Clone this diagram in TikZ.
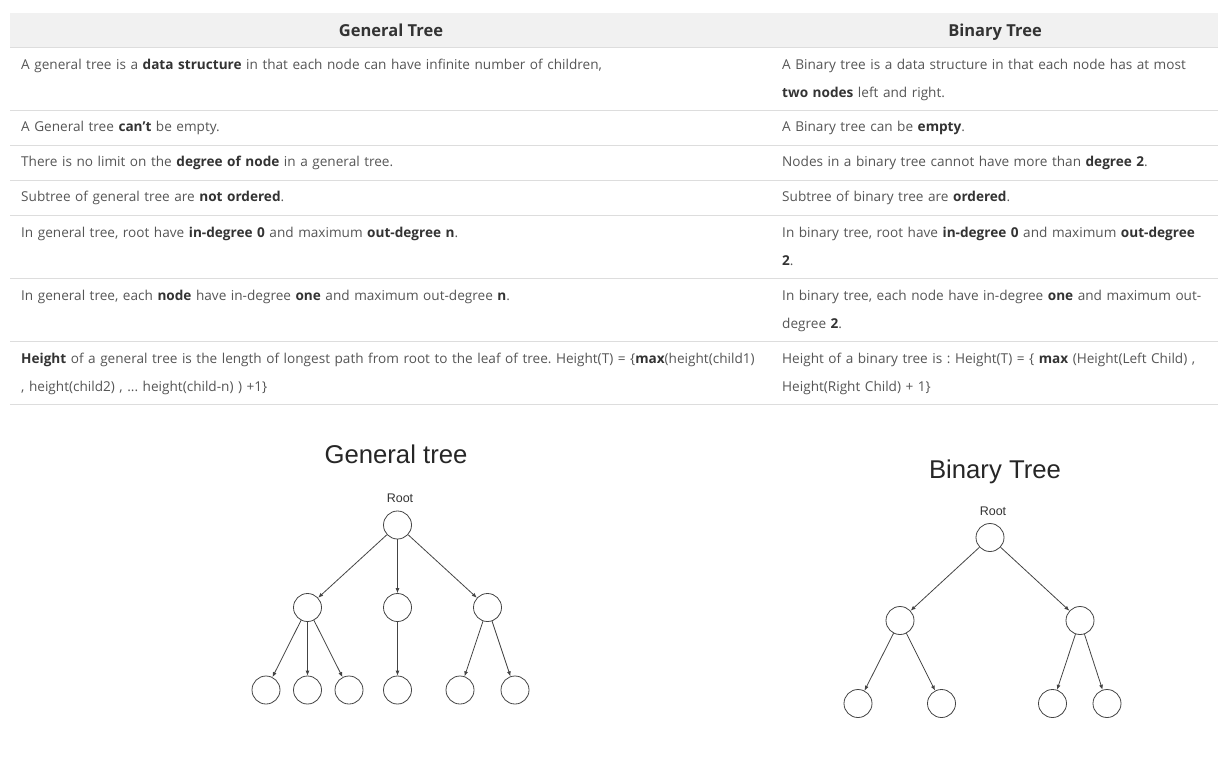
\documentclass[tikz,border=0pt]{standalone}
\usepackage{fontspec}
\setmainfont{Open Sans}
\newfontfamily\arialfont{Liberation Sans}
\usepackage{xcolor}
\usetikzlibrary{arrows.meta,positioning}

\definecolor{txtgray}{HTML}{555555}
\definecolor{boldgray}{HTML}{333333}
\definecolor{headfill}{HTML}{F1F1F1}
\definecolor{rulegray}{HTML}{DDDDDD}
\definecolor{treegray}{HTML}{444444}

\newcommand{\bb}[1]{{\bfseries\color{boldgray}#1}}

\tikzset{
  cell/.style={anchor=base west, inner sep=0pt, text width=760pt, align=left,
    text=txtgray, font=\fontsize{13.6}{28}\selectfont\frenchspacing},
  headcell/.style={anchor=base, inner sep=0pt, text=boldgray,
    font=\fontsize{16.5}{18}\selectfont\bfseries},
  tnode/.style={circle, draw=treegray, line width=0.8pt, minimum size=28pt, inner sep=0pt},
  tedge/.style={draw=treegray, line width=0.8pt, -{Latex[length=5pt,width=4pt]}},
  ttitle/.style={anchor=base, inner sep=0pt, text=black!85,
    font=\arialfont\fontsize{25.7}{28}\selectfont},
  troot/.style={anchor=base, inner sep=0pt, text=black!80,
    font=\arialfont\fontsize{12.5}{14}\selectfont}
}

\begin{document}
\begin{tikzpicture}[x=1pt, y=-1pt]
  \useasboundingbox (0,0) rectangle (1232,756);

  % Table header
  \fill[headfill] (10,13) rectangle (1218,47);
  \node[headcell] (hgen) at (391,36) {General Tree};
  \node[headcell] (hbin) at (995,36) {Binary Tree};

  % Row rules
  \foreach \ry in {47,110,145,180,215,278,341,404}
    \draw[rulegray, line width=1pt] (10,\ry) -- (1218,\ry);

  % General tree column
  \node[cell] (g1) at (21,69) {A general tree is a \bb{data structure} in that each node can have infinite number of children,};
  \node[cell] (g2) at (21,131) {A General tree \bb{can’t} be empty.};
  \node[cell] (g3) at (21,166) {There is no limit on the \bb{degree of node} in a general tree.};
  \node[cell] (g4) at (21,201) {Subtree of general tree are \bb{not ordered}.};
  \node[cell] (g5) at (21,237) {In general tree, root have \bb{in-degree 0} and maximum \bb{out-degree n}.};
  \node[cell] (g6) at (21,300) {In general tree, each \bb{node} have in-degree \bb{one} and maximum out-degree \bb{n}.};
  \node[cell] (g7) at (21,363) {\bb{Height} of a general tree is the length of longest path from root to the leaf of tree. Height(T) = \{\bb{max}(height(child1)\\
    , height(child2) , ... height(child-n) ) +1\}};

  % Binary tree column
  \node[cell, text width=430pt] (b1) at (782,69) {A Binary tree is a data structure in that each node has at most\\
    \bb{two nodes} left and right.};
  \node[cell, text width=430pt] (b2) at (782,131) {A Binary tree can be \bb{empty}.};
  \node[cell, text width=430pt] (b3) at (782,166) {Nodes in a binary tree cannot have more than \bb{degree 2}.};
  \node[cell, text width=430pt] (b4) at (782,201) {Subtree of binary tree are \bb{ordered}.};
  \node[cell, text width=430pt] (b5) at (782,237) {In binary tree, root have \bb{in-degree 0} and maximum \bb{out-degree}\\
    \bb{2}.};
  \node[cell, text width=430pt] (b6) at (782,300) {In binary tree, each node have in-degree \bb{one} and maximum out-\\
    degree \bb{2}.};
  \node[cell, text width=430pt] (b7) at (782,363) {Height of a binary tree is : Height(T) = \{ \bb{max} (Height(Left Child) ,\\
    Height(Right Child) + 1\}};

  % General tree picture
  \node[ttitle] (gtitle) at (396,463) {General tree};
  \node[troot] (grootlbl) at (400,502.5) {Root};
  \node[tnode] (gR) at (397.5,525) {};
  \node[tnode] (gA) at (307.5,607.5) {};
  \node[tnode] (gB) at (397.5,607.5) {};
  \node[tnode] (gC) at (487.5,607.5) {};
  \node[tnode] (gA1) at (266,690) {};
  \node[tnode] (gA2) at (307.5,690) {};
  \node[tnode] (gA3) at (349,690) {};
  \node[tnode] (gB1) at (397.5,690) {};
  \node[tnode] (gC1) at (460,690) {};
  \node[tnode] (gC2) at (515,690) {};
  \foreach \p/\c in {gR/gA, gR/gB, gR/gC, gA/gA1, gA/gA2, gA/gA3, gB/gB1, gC/gC1, gC/gC2}
    \draw[tedge] (\p) -- (\c);

  % Binary tree picture
  \node[ttitle] (btitle) at (995,478) {Binary Tree};
  \node[troot] (brootlbl) at (993,515.5) {Root};
  \node[tnode] (bR) at (990,537.5) {};
  \node[tnode] (bL) at (900,620.5) {};
  \node[tnode] (bRt) at (1080,620.5) {};
  \node[tnode] (bLL) at (858,703.5) {};
  \node[tnode] (bLR) at (941.5,703.5) {};
  \node[tnode] (bRL) at (1052.5,703.5) {};
  \node[tnode] (bRR) at (1107,703.5) {};
  \foreach \p/\c in {bR/bL, bR/bRt, bL/bLL, bL/bLR, bRt/bRL, bRt/bRR}
    \draw[tedge] (\p) -- (\c);
\end{tikzpicture}
\end{document}
